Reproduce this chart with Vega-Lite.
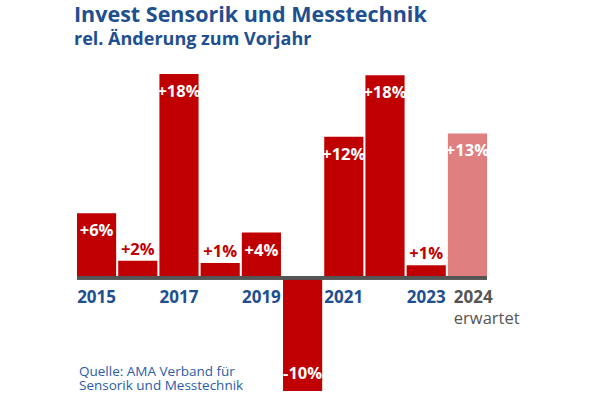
{
  "$schema": "https://vega.github.io/schema/vega-lite/v6.json",
  "width": 410,
  "height": 317,
  "autosize": "none",
  "padding": {"left": 77, "top": 74, "right": 113, "bottom": 4},
  "background": "white",
  "config": {
    "view": {"stroke": null},
    "font": "Open Sans",
    "text": {"font": "Open Sans"}
  },
  "title": {
    "text": "Invest Sensorik und Messtechnik",
    "subtitle": "rel. Änderung zum Vorjahr",
    "anchor": "start",
    "frame": "group",
    "dx": -3,
    "offset": 25,
    "font": "Open Sans",
    "fontSize": 21.5,
    "fontWeight": "bold",
    "color": "#1d4f91",
    "subtitleFont": "Open Sans",
    "subtitleFontSize": 18,
    "subtitleFontWeight": "bold",
    "subtitleColor": "#1d4f91",
    "subtitlePadding": 5
  },
  "datasets": {
    "quelle": [
      {"year": "2015", "value": -10, "line1": "Quelle: AMA Verband für", "line2": "Sensorik und Messtechnik"}
    ]
  },
  "data": {
    "values": [
      {"year": "2015", "value": 5.7, "label": "+6%", "status": "ist", "tick": true},
      {"year": "2016", "value": 1.5, "label": "+2%", "status": "ist", "tick": false},
      {"year": "2017", "value": 18.0, "label": "+18%", "status": "ist", "tick": true},
      {"year": "2018", "value": 1.3, "label": "+1%", "status": "ist", "tick": false},
      {"year": "2019", "value": 4.0, "label": "+4%", "status": "ist", "tick": true},
      {"year": "2020", "value": -10.0, "label": "-10%", "status": "ist", "tick": false},
      {"year": "2021", "value": 12.45, "label": "+12%", "status": "ist", "tick": true},
      {"year": "2022", "value": 17.9, "label": "+18%", "status": "ist", "tick": false},
      {"year": "2023", "value": 1.1, "label": "+1%", "status": "ist", "tick": true},
      {"year": "2024", "value": 12.75, "label": "+13%", "status": "erwartet", "tick": false}
    ]
  },
  "encoding": {
    "x": {
      "field": "year",
      "type": "ordinal",
      "axis": null,
      "scale": {"paddingInner": 0.05, "paddingOuter": 0}
    }
  },
  "layer": [
    {
      "mark": {"type": "bar"},
      "encoding": {
        "y": {
          "field": "value",
          "type": "quantitative",
          "axis": null,
          "scale": {"domain": [-10, 18], "nice": false}
        },
        "color": {
          "field": "status",
          "type": "nominal",
          "legend": null,
          "scale": {"domain": ["ist", "erwartet"], "range": ["#c00000", "#e07f80"]}
        }
      }
    },
    {
      "mark": {"type": "rule", "strokeWidth": 3, "color": "#555555"},
      "encoding": {"x": null, "y": {"datum": 0, "type": "quantitative"}}
    },
    {
      "transform": [{"filter": "datum.value >= 3"}],
      "mark": {"type": "text", "fontSize": 16.5, "fontWeight": "bold", "color": "white", "baseline": "alphabetic", "dy": 23},
      "encoding": {
        "y": {"field": "value", "type": "quantitative"},
        "text": {"field": "label"}
      }
    },
    {
      "transform": [{"filter": "datum.value > 0 && datum.value < 3"}],
      "mark": {"type": "text", "fontSize": 16.5, "fontWeight": "bold", "color": "#c00000", "baseline": "alphabetic", "dy": -6},
      "encoding": {
        "y": {"field": "value", "type": "quantitative"},
        "text": {"field": "label"}
      }
    },
    {
      "transform": [{"filter": "datum.value < 0"}],
      "mark": {"type": "text", "fontSize": 16.5, "fontWeight": "bold", "color": "white", "baseline": "alphabetic", "dy": -12},
      "encoding": {
        "y": {"field": "value", "type": "quantitative"},
        "text": {"field": "label"}
      }
    },
    {
      "transform": [{"filter": "datum.tick"}],
      "mark": {"type": "text", "fontSize": 17, "fontWeight": "bold", "color": "#1d4f91", "baseline": "alphabetic", "dy": 25},
      "encoding": {
        "y": {"datum": 0, "type": "quantitative"},
        "text": {"field": "year"}
      }
    },
    {
      "transform": [{"filter": "datum.status == 'erwartet'"}],
      "mark": {"type": "text", "fontSize": 17, "fontWeight": "bold", "color": "#555555", "baseline": "alphabetic", "align": "left", "dx": 6, "dy": 25},
      "encoding": {
        "x": {"field": "year", "type": "ordinal", "bandPosition": 0},
        "y": {"datum": 0, "type": "quantitative"},
        "text": {"field": "year"}
      }
    },
    {
      "transform": [{"filter": "datum.status == 'erwartet'"}],
      "mark": {"type": "text", "fontSize": 16.5, "fontWeight": "normal", "color": "#555555", "baseline": "alphabetic", "align": "left", "dx": 6, "dy": 46},
      "encoding": {
        "x": {"field": "year", "type": "ordinal", "bandPosition": 0},
        "y": {"datum": 0, "type": "quantitative"},
        "text": {"field": "status"}
      }
    },
    {
      "data": {"name": "quelle"},
      "mark": {"type": "text", "fontSize": 13.5, "color": "#2a5ca8", "baseline": "alphabetic", "align": "left", "dx": 2, "dy": -15},
      "encoding": {
        "x": {"field": "year", "type": "ordinal", "bandPosition": 0},
        "y": {"field": "value", "type": "quantitative"},
        "text": {"field": "line1"}
      }
    },
    {
      "data": {"name": "quelle"},
      "mark": {"type": "text", "fontSize": 13.5, "color": "#2a5ca8", "baseline": "alphabetic", "align": "left", "dx": 2, "dy": -1},
      "encoding": {
        "x": {"field": "year", "type": "ordinal", "bandPosition": 0},
        "y": {"field": "value", "type": "quantitative"},
        "text": {"field": "line2"}
      }
    }
  ]
}
